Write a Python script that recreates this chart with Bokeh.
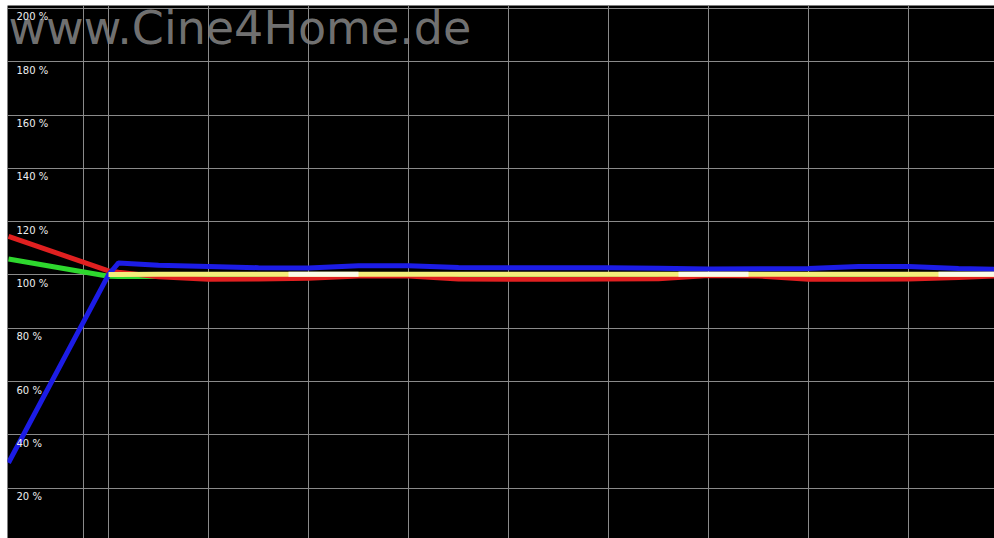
import math
from bokeh.plotting import figure
from bokeh.models import Range1d, FixedTicker, Label
from bokeh.core.properties import value
from bokeh.embed import file_html
from bokeh.resources import INLINE

nan = float("nan")

# Stimulus level (%) for each measured point
levels = [0, 10, 11, 15, 20, 25, 30, 35, 40, 45, 50, 55, 60, 65, 70, 75, 80, 85, 90, 95, 100]

red = [114.5, 101.5, 101.0, 99.3, 98.4, 98.5, 98.8, 99.6, 99.6, 98.5, 98.4, 98.4,
       98.5, 98.6, 99.8, 99.6, 98.4, 98.4, 98.5, 99.0, 99.8]
green = [106.0, 99.5, 99.4, 99.4, 99.8, 99.9, 99.9, 99.9, 99.9, 99.9, 99.9, 99.9,
         99.9, 99.9, 99.9, 99.9, 99.9, 99.9, 99.9, 99.9, 99.9]
blue = [29.5, 100.0, 104.5, 103.6, 103.2, 102.7, 102.6, 103.4, 103.4, 102.8, 102.7,
        102.7, 102.7, 102.5, 102.2, 102.3, 102.4, 103.2, 103.2, 102.4, 102.0]
yellow = [nan, 100.2, 100.2, 100.3, 100.3, 100.3, 100.3, 100.3, 100.3, 100.3, 100.3,
          100.3, 100.3, 100.3, 100.3, 100.3, 100.3, 100.3, 100.3, 100.3, 100.3]

# white (luminance) stretches lying on top of the yellow line
white_start = [28, 67, 93]
white_end = [35, 74, 100]
white_level = [100.3, 100.3, 100.3]

x_grid = [7.5, 10, 20, 30, 40, 50, 60, 70, 80, 90]
y_ticks = [20, 40, 60, 80, 100, 120, 140, 160, 180, 200]
y_labels = ["20 %", "40 %", "60 %", "80 %", "100 %", "120 %", "140 %", "160 %", "180 %", "200 %"]
watermark = "www.Cine4Home.de"

p = figure(width=994, height=538, output_backend="svg", toolbar_location=None,
           x_range=Range1d(-0.1, 98.6), y_range=Range1d(1.1, 201.1),
           min_border_left=7, min_border_top=5, min_border_right=0, min_border_bottom=0,
           outline_line_color=None)
p.background_fill_color = "black"
p.border_fill_color = "white"
p.xaxis.visible = False
p.yaxis.visible = False
p.xaxis.ticker = FixedTicker(ticks=x_grid)
p.yaxis.ticker = FixedTicker(ticks=y_ticks)
p.xgrid.ticker = FixedTicker(ticks=x_grid)
p.ygrid.ticker = FixedTicker(ticks=y_ticks)
for g in (p.xgrid, p.ygrid):
    g.grid_line_color = "#8a8a8a"
    g.grid_line_width = 1

wm = Label(x=0.0, y=201.1, text=watermark, text_color="#808080", text_alpha=0.9,
           text_font="DejaVu Sans", text_font_size="46px",
           text_baseline="top", text_align="left", y_offset=5, level="underlay")
p.add_layout(wm)

p.line(levels, green, line_color="#2ed82e", line_width=5)
p.line(levels, red, line_color="#e02020", line_width=5)
p.line(levels, blue, line_color="#1c1ce6", line_width=5)
p.line(levels, yellow, line_color="#f4ee7a", line_width=5)
p.segment(x0=white_start, y0=white_level, x1=white_end, y1=white_level,
          line_color="#fbfbe8", line_width=5)

p.text(x=[0.8] * len(y_ticks), y=y_ticks, text=y_labels, text_color="#eeeeee",
       text_font=value("DejaVu Sans"), text_font_size="10px",
       text_baseline="top", text_align="left", y_offset=3)

open("out.html", "w").write(file_html(p, INLINE))
